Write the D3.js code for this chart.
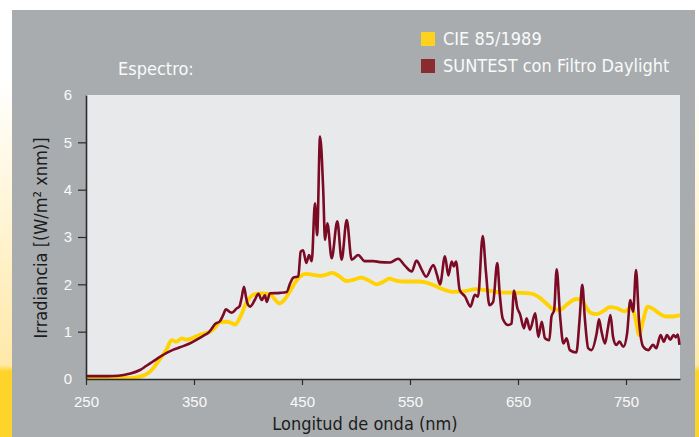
<!DOCTYPE html>
<html>
<head>
<meta charset="utf-8">
<script src="https://cdn.jsdelivr.net/npm/d3@7"></script>
<style>
  body { margin: 0; background: #fff; }
  svg { display: block; font-family: "Liberation Sans Narrow", "DejaVu Sans Condensed", sans-serif; }
</style>
</head>
<body>
<svg id="chart" width="699" height="437"></svg>
<script>
// wavelengths (nm) and irradiance values
const cieNm = [250,270,290,300,309,313,318.5,324.7,329.3,334,338.6,343,348,354,361,365,370,374,380,385,388,392.6,398.8,405,412,420,425,429,434,439,444,448,454,460,467,472,478,484,491,498,505,512,519,525,531,537,545,559,570,580,590,600,611,620,633,650,661,670,677,683,689,695,704,709,713,717,723,730,735,741,749,755,759,762,766,770,775,781,787,793,800];
const cieVal = [0.02,0.02,0.02,0.05,0.15,0.25,0.42,0.63,0.82,0.79,0.86,0.83,0.86,0.92,0.97,1.0,1.1,1.2,1.21,1.18,1.15,1.3,1.62,1.78,1.81,1.8,1.68,1.6,1.68,1.86,2.05,2.16,2.22,2.2,2.18,2.2,2.24,2.18,2.07,2.1,2.14,2.08,2.0,2.05,2.12,2.08,2.06,2.06,2.0,1.9,1.84,1.85,1.9,1.88,1.83,1.82,1.81,1.72,1.58,1.47,1.46,1.57,1.69,1.67,1.52,1.4,1.37,1.45,1.52,1.5,1.43,1.53,1.25,0.93,1.25,1.53,1.48,1.38,1.32,1.32,1.35];

const sunNm = [250,270,280,290,300,306,312,318,324.7,331,337,346,355.5,360,363,366,369.4,374,377,379.6,383,385,389.5,392,394,396.3,398,399.4,402,406.5,409.6,412.7,415.7,417.3,420.4,429.6,435.8,439,442,446.6,448.8,451,454,456.5,459,462,464,466.7,469.7,471.3,473.5,477.5,482.7,486.7,491.4,496,502,508,516,522,531.5,539,545,551.6,556,561,565,571.6,575,577.8,582.4,585.5,588.6,590.5,592.6,596,601,606,610,613,617.3,620.4,623.5,627,630.8,633,635.8,641,644,646.3,649.4,652,655.5,658,661,666,668.8,672,675,679,681,683.5,685.8,689,692,695,698,704,707,709.5,712,715,718,722.8,725,727,730.6,733,735.6,738,741,744,747.5,751,754,756.6,759.3,762,766,770.6,775,778,782,785,788,791,794,796,798,799.5];
const sunVal = [0.06,0.06,0.07,0.11,0.19,0.28,0.37,0.46,0.55,0.62,0.67,0.75,0.87,0.93,0.97,1.05,1.16,1.22,1.35,1.47,1.42,1.4,1.49,1.53,1.7,1.95,1.75,1.6,1.53,1.68,1.8,1.67,1.77,1.63,1.81,1.82,1.84,2.02,2.14,2.17,2.69,2.72,2.45,2.62,2.49,3.71,3.04,5.12,3.96,2.94,3.29,2.55,3.33,2.52,3.36,2.52,2.62,2.49,2.49,2.47,2.46,2.54,2.4,2.27,2.5,2.3,2.16,2.41,2.2,2.0,2.59,2.19,2.48,2.38,2.48,1.88,1.74,1.53,1.78,1.74,3.02,2.24,1.56,1.63,2.45,1.82,1.28,1.14,1.17,1.87,1.5,1.36,1.07,1.28,1.04,1.39,0.89,1.21,0.86,0.82,1.32,1.46,2.32,1.32,0.75,0.86,0.61,0.56,1.25,1.99,1.25,0.65,0.61,0.96,1.26,1.04,0.75,1.04,1.35,0.89,0.72,0.79,0.68,0.96,1.67,1.42,2.3,1.25,0.68,0.61,0.72,0.65,0.93,0.79,0.93,0.83,0.93,0.88,0.94,0.72];

const xTicks = [250,350,450,550,650,750];
const yTicks = [0,1,2,3,4,5,6];
const legendLabels = ["CIE 85/1989","SUNTEST con Filtro Daylight"];
const legendColors = ["#ffd21e","#8a2b2f"];

const svg = d3.select("#chart");
const defs = svg.append("defs");
let grad = defs.append("linearGradient").attr("id","edge").attr("x1",0).attr("x2",0).attr("y1",0).attr("y2",1);
grad.append("stop").attr("offset","0.18").attr("stop-color","#ffffff");
grad.append("stop").attr("offset","0.835").attr("stop-color","#ffe9a8");
grad.append("stop").attr("offset","0.85").attr("stop-color","#ffd42a");
grad.append("stop").attr("offset","1").attr("stop-color","#ffd42a");

svg.append("rect").attr("x",0).attr("y",0).attr("width",12).attr("height",437).attr("fill","url(#edge)");
svg.append("rect").attr("x",695).attr("y",0).attr("width",4).attr("height",437).attr("fill","url(#edge)");
svg.append("rect").attr("x",0).attr("y",0).attr("width",699).attr("height",10).attr("fill","#fff");
svg.append("rect").attr("x",12).attr("y",10).attr("width",683).attr("height",427).attr("fill","#a8acaf");

const mLeft = 86, mRight = 680, mTop = 95, mBottom = 379;
const x = d3.scaleLinear().domain([250,800]).range([mLeft,mRight]);
const y = d3.scaleLinear().domain([0,6]).range([mBottom,mTop]);

svg.append("rect").attr("x",mLeft).attr("y",mTop).attr("width",mRight-mLeft).attr("height",mBottom-mTop).attr("fill","#e8e9eb");

// lines
const line = d3.line().x(d => x(d[0])).y(d => y(d[1])).curve(d3.curveMonotoneX);
svg.append("path")
  .datum(d3.zip(cieNm,cieVal))
  .attr("d",line)
  .attr("fill","none").attr("stroke","#ffd200").attr("stroke-width",3.8).attr("stroke-linejoin","round");
svg.append("path")
  .datum(d3.zip(sunNm,sunVal))
  .attr("d",line)
  .attr("fill","none").attr("stroke","#7b0a24").attr("stroke-width",2.6).attr("stroke-linejoin","round");

// axes
let xAxis = svg.append("g").attr("transform","translate(0,"+mBottom+")")
  .call(d3.axisBottom(x).tickValues(xTicks).tickSize(6).tickSizeOuter(0).tickFormat(d3.format("d")));
let yAxis = svg.append("g").attr("transform","translate("+mLeft+",0)")
  .call(d3.axisLeft(y).tickValues(yTicks).tickSize(8).tickSizeOuter(0).tickPadding(6).tickFormat(d3.format("d")));
[xAxis,yAxis].forEach(g => {
  g.select(".domain").attr("stroke","#2b2b2b").attr("stroke-width",1.6);
  g.selectAll(".tick line").attr("stroke","#2b2b2b").attr("stroke-width",1.2);
  g.selectAll(".tick text").attr("fill","#fafafa").attr("font-size",15).attr("font-family",null);
});
xAxis.selectAll(".tick text").attr("dy","1.25em");
yAxis.selectAll(".tick line").filter(d => d === 0 || d === 6).remove();

svg.append("text").attr("x",365).attr("y",430).attr("text-anchor","middle")
  .attr("font-size",18).attr("fill","#1c1c1c").text("Longitud de onda (nm)");
svg.append("text").attr("transform","translate(47,238) rotate(-90)").attr("text-anchor","middle")
  .attr("font-size",18).attr("fill","#1c1c1c").text("Irradiancia [(W/m² xnm)]");

svg.append("text").attr("x",118).attr("y",75).attr("font-size",18).attr("fill","#fafafa").text("Espectro:");

let leg = svg.selectAll(".leg").data(legendLabels).enter().append("g").attr("class","leg")
  .attr("transform",(d,i) => "translate(421,"+(32+i*27)+")");
leg.append("rect").attr("width",14).attr("height",14).attr("fill",(d,i) => legendColors[i]);
leg.append("text").attr("x",22).attr("y",13).attr("font-size",18).attr("fill","#fafafa").text(d => d);
</script>
</body>
</html>
